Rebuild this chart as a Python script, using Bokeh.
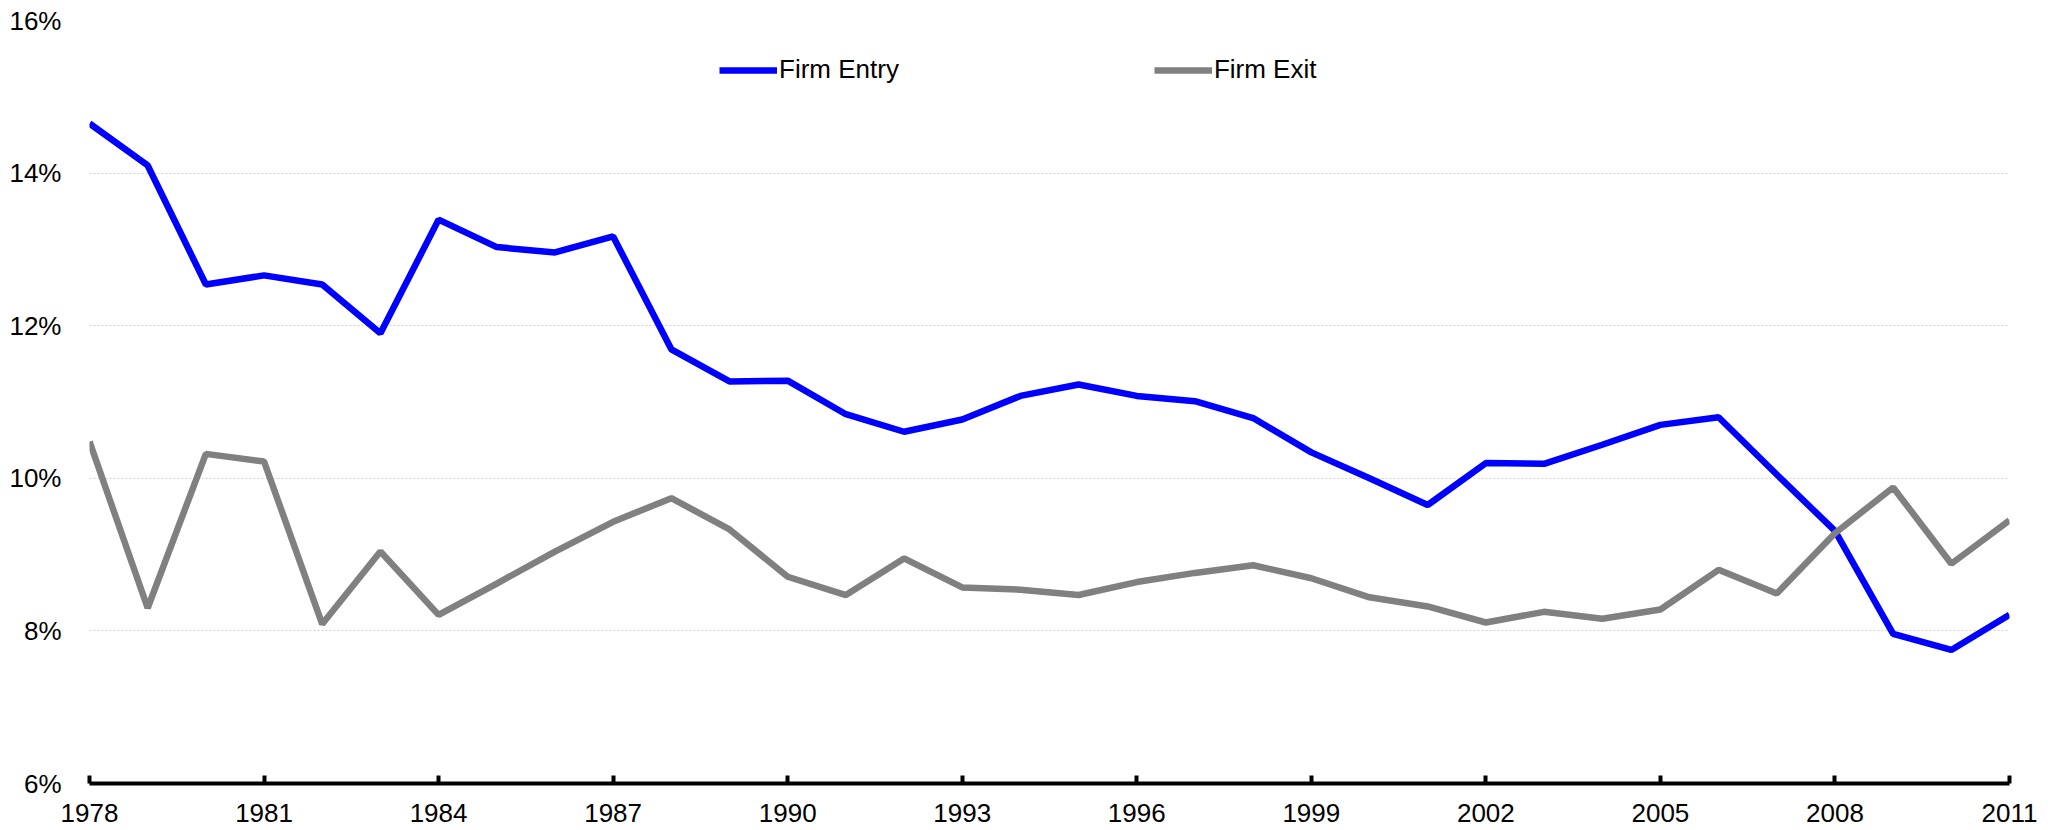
from bokeh.plotting import figure
from bokeh.models import FixedTicker, PrintfTickFormatter, Range1d, Legend, LegendItem
from bokeh.embed import file_html
from bokeh.resources import INLINE

years = list(range(1978, 2012))
firm_entry = [14.65, 14.10, 12.54, 12.66, 12.54, 11.90, 13.39, 13.03, 12.96, 13.17,
              11.69, 11.27, 11.28, 10.84, 10.61, 10.77, 11.08, 11.23, 11.08, 11.01,
              10.79, 10.34, 10.00, 9.65, 10.20, 10.19, 10.44, 10.70, 10.80, 10.05,
              9.31, 7.96, 7.75, 8.21]
firm_exit = [10.48, 8.30, 10.32, 10.22, 8.09, 9.04, 8.21, 8.62, 9.04, 9.43,
             9.74, 9.33, 8.71, 8.47, 8.95, 8.57, 8.54, 8.47, 8.64, 8.76,
             8.86, 8.69, 8.44, 8.32, 8.11, 8.25, 8.16, 8.28, 8.80, 8.49,
             9.28, 9.88, 8.88, 9.45]
x_ticks = list(range(1978, 2012, 3))
y_ticks = [6, 8, 10, 12, 14, 16]

FONT = "Liberation Sans"

p = figure(width=2045, height=828, output_backend="svg", toolbar_location=None,
           x_range=Range1d(1978, 2011), y_range=Range1d(6, 16),
           min_border_left=89, min_border_right=36, min_border_top=20, min_border_bottom=45)
p.outline_line_color = None
p.background_fill_color = "white"

r1 = p.line(years, firm_entry, line_color="#0000FF", line_width=6.5)
r2 = p.line(years, firm_exit, line_color="#808080", line_width=6.5)

# x axis
xa = p.xaxis[0]
xa.ticker = FixedTicker(ticks=x_ticks)
xa.axis_line_color = "black"
xa.axis_line_width = 4
xa.major_tick_line_color = "black"
xa.major_tick_line_width = 4
xa.major_tick_in = 8
xa.major_tick_out = 0
xa.minor_tick_line_color = None
xa.major_label_text_font = FONT
xa.major_label_text_font_size = "26px"
xa.major_label_text_color = "black"
xa.major_label_standoff = 20

# y axis
ya = p.yaxis[0]
ya.ticker = FixedTicker(ticks=y_ticks)
ya.formatter = PrintfTickFormatter(format="%d%%")
ya.axis_line_color = None
ya.major_tick_line_color = None
ya.minor_tick_line_color = None
ya.major_label_text_font = FONT
ya.major_label_text_font_size = "26px"
ya.major_label_text_color = "black"
ya.major_label_standoff = 22

p.xgrid.grid_line_color = None
p.ygrid.grid_line_color = "#d0d0d0"
p.ygrid.grid_line_dash = "2 2"
p.ygrid.grid_line_width = 1

legend = Legend(items=[LegendItem(label="Firm Entry", renderers=[r1]),
                       LegendItem(label="Firm Exit", renderers=[r2])],
                orientation="horizontal", location=(630, 698),
                spacing=255, padding=0, margin=0, border_line_color=None,
                background_fill_alpha=0, glyph_width=58, glyph_height=26,
                label_height=26, label_standoff=2,
                label_text_font=FONT, label_text_font_size="26px", label_text_color="black")
p.add_layout(legend)

open("out.html", "w").write(file_html(p, INLINE))
